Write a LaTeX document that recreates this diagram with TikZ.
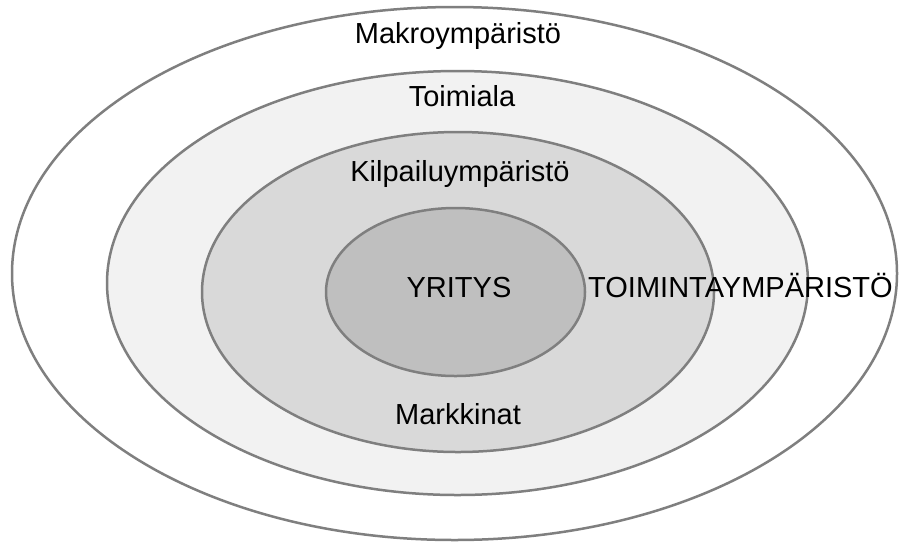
\documentclass[tikz,border=0pt]{standalone}
\usepackage{fontspec}
\setmainfont{Liberation Sans}
\definecolor{ring}{HTML}{7F7F7F}
\definecolor{fillA}{HTML}{F2F2F2}
\definecolor{fillB}{HTML}{D9D9D9}
\definecolor{fillC}{HTML}{BFBFBF}
\begin{document}
\begin{tikzpicture}[x=1pt,y=-1pt,
  layer/.style={draw=ring,line width=2.5pt},
  lbl/.style={inner sep=0pt,anchor=base,font=\fontsize{29}{34}\selectfont,text=black}]
\useasboundingbox (0,0) rectangle (901,547);
\draw[layer,fill=white] (454.5,273.5) ellipse [x radius=442.5, y radius=266.5];
\draw[layer,fill=fillA] (457.5,283) ellipse [x radius=350.5, y radius=212];
\draw[layer,fill=fillB] (458,292) ellipse [x radius=256, y radius=160];
\draw[layer,fill=fillC] (455.5,292) ellipse [x radius=129.5, y radius=84];
\node[lbl] (makro) at (458,43) {Makroympäristö};
\node[lbl] (toimiala) at (462,106) {Toimiala};
\node[lbl] (kilpailu) at (460,181) {Kilpailuympäristö};
\node[lbl] (yritys) at (459,297) {YRITYS};
\node[lbl,anchor=base west] (toiminta) at (588,297) {TOIMINTAYMPÄRISTÖ};
\node[lbl] (markkinat) at (458,424) {Markkinat};
\end{tikzpicture}
\end{document}
